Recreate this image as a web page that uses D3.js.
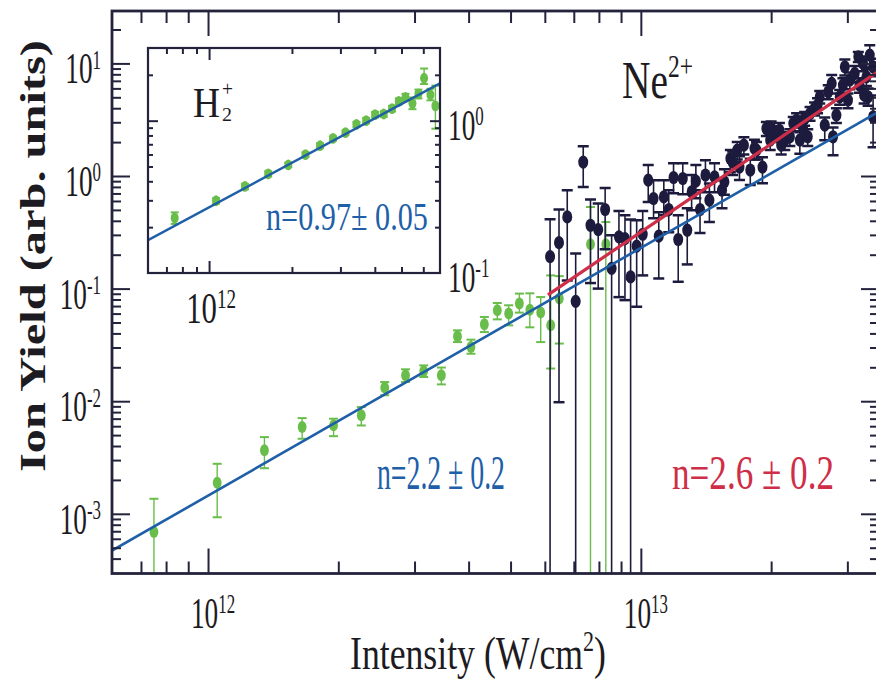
<!DOCTYPE html>
<html>
<head>
<meta charset="utf-8">
<script src="https://cdn.jsdelivr.net/npm/d3@7"></script>
<style>
  body { margin: 0; background: #fff; }
  svg { display: block; }
  text { font-family: "Liberation Serif", "Times New Roman", serif; fill: #1d1b22; }
  .ax line { stroke: #24233c; stroke-width: 2; }
  .ax .domain { display: none; }
</style>
</head>
<body>
<div id="chart"></div>
<script>
// ---- data ----
// green points (main panel)
const greenX = [7.5e11, 1.05e12, 1.35e12, 1.65e12, 1.95e12, 2.26e12, 2.56e12, 2.86e12, 3.15e12, 3.46e12, 3.77e12,
  4.05e12, 4.35e12, 4.66e12, 4.95e12, 5.24e12, 5.54e12, 5.87e12, 6.19e12, 6.48e12, 7.65e12, 8.3e12];
const greenY = [6.9e-4, 1.89e-3, 3.66e-3, 5.9e-3, 6.1e-3, 7.5e-3, 1.32e-2, 1.7e-2, 1.85e-2, 1.7e-2, 3.77e-2,
  3.03e-2, 4.82e-2, 6.41e-2, 6.0e-2, 7.36e-2, 6.5e-2, 6.12e-2, 4.72e-2, 8.15e-2, 0.248, 0.248];
const greenHi = [1.36e-3, 2.78e-3, 4.8e-3, 7.08e-3, 6.99e-3, 8.87e-3, 1.48e-2, 1.92e-2, 2.08e-2, 1.99e-2, 4.26e-2,
  3.52e-2, 5.6e-2, 7.45e-2, 7.11e-2, 9.03e-2, 9.08e-2, 8.41e-2, 0.131, 0.129, 0.531, 0.39];
// 0 = error bar runs below the axis
const greenLo = [0, 9.3e-4, 2.54e-3, 4.64e-3, 4.89e-3, 6.09e-3, 1.13e-2, 1.48e-2, 1.64e-2, 1.41e-2, 3.35e-2,
  2.64e-2, 4.11e-2, 5.33e-2, 4.72e-2, 6.12e-2, 4.53e-2, 3.35e-2, 1.95e-2, 3.25e-2, 0, 0];

// dark points (Ne2+)
const navyX = [6.17e12, 6.47e12, 6.76e12, 7.07e12, 7.36e12, 7.65e12, 7.97e12, 8.27e12, 8.56e12, 8.9e12,
  9.19e12, 9.47e12, 9.78e12, 1.01e13, 1.04e13, 1.07e13, 1.1e13, 1.13e13, 1.16e13, 1.19e13,
  1.22e13, 1.25e13, 1.28e13, 1.31e13, 1.34e13, 1.37e13, 1.41e13, 1.44e13, 1.48e13, 1.54e13,
  1.56e13, 1.61e13, 1.63e13, 1.69e13, 1.73e13, 1.79e13, 1.83e13, 1.91e13, 1.95e13, 1.99e13,
  2.04e13, 2.09e13, 2.11e13, 2.15e13, 2.21e13, 2.25e13, 2.33e13, 2.39e13, 2.43e13, 2.46e13,
  2.52e13, 2.59e13, 2.66e13, 2.71e13, 2.76e13, 2.78e13, 2.83e13, 2.88e13, 2.96e13, 3.04e13,
  3.12e13, 3.18e13, 3.26e13, 3.32e13, 3.35e13, 3.38e13, 3.44e13, 3.44e13,
  1.67e13, 1.85e13, 2.0e13, 2.29e13, 2.37e13, 2.56e13, 2.93e13, 3.01e13, 3.2e13, 3.28e13];
const navyY = [0.192, 0.256, 0.433, 0.0771, 1.33, 0.365, 0.334, 0.504, 0.151, 0.288,
  0.278, 0.127, 0.238, 0.304, 0.918, 0.631, 0.292, 0.652, 0.504, 0.97,
  0.273, 0.95, 0.33, 0.722, 0.9, 0.504, 1.02, 0.61, 0.982, 0.748,
  0.887, 1.43, 1.33, 1.2, 1.88, 1.13, 1.76, 1.2, 2.64, 2.08,
  2.39, 2.55, 1.88, 2.08, 2.23, 2.93, 2.08, 3.24, 2.23, 3.59,
  3.98, 5.05, 2.83, 5.59, 6.64, 2.23, 3.47, 5.05, 9.33, 7.11,
  8.15, 11.45, 10.0, 7.6, 5.05, 11.85, 9.33, 3.35,
  1.7, 1.7, 2.66, 3.13, 2.66, 4.26, 6.42, 4.72, 6.42, 5.22];
const navyHi = [0.413, 0.504, 0.748, 0.205, 1.84, 0.618, 0.57, 0.784, 0.298, 0.49,
  0.449, 0.41, 0.405, 0.49, 1.25, 0.918, 0.477, 0.918, 0.748, 1.3,
  0.449, 1.3, 0.518, 1.02, 1.25, 0.748, 1.38, 0.86, 1.3, 0.918,
  1.15, 1.7, 1.65, 1.5, 2.21, 1.42, 2.1, 1.47, 3.01, 2.45,
  2.75, 2.95, 2.2, 2.45, 2.6, 3.35, 2.45, 3.7, 2.6, 4.1,
  4.5, 5.7, 3.3, 6.4, 7.87, 2.7, 4.0, 5.8, 10.85, 8.3,
  9.5, 12.6, 11.5, 8.9, 6.0, 14.5, 11.0, 5.2,
  2.0, 2.0, 3.05, 3.6, 3.05, 4.9, 7.4, 5.4, 7.4, 6.0];
const navyLo = [0, 9.8e-3, 0.118, 0, 0.8, 0.112, 0.1, 0.224, 0, 0.084,
  0.079, 0, 0.069, 0.131, 0.589, 0.421, 0.123, 0.449, 0.316, 0.703,
  0.115, 0.69, 0.164, 0.497, 0.635, 0.312, 0.718, 0.39, 0.718, 0.518,
  0.68, 1.08, 1.02, 0.92, 1.55, 0.83, 1.4, 0.863, 2.27, 1.7,
  2.0, 2.15, 1.55, 1.7, 1.85, 2.5, 1.58, 2.8, 1.85, 3.1,
  3.45, 4.4, 2.08, 4.8, 5.4, 1.53, 2.95, 4.3, 7.8, 5.9,
  6.8, 10.3, 8.5, 6.3, 4.2, 9.2, 7.7, 1.8,
  1.4, 1.4, 2.3, 2.7, 2.3, 3.6, 5.5, 4.0, 5.5, 4.4];

// inset (H2+)
const insetX = [7.5e11, 1.06e12, 1.35e12, 1.64e12, 1.94e12, 2.24e12, 2.53e12, 2.82e12, 3.13e12, 3.43e12, 3.72e12,
  4.01e12, 4.31e12, 4.62e12, 4.89e12, 5.17e12, 5.48e12, 5.76e12, 6.04e12, 6.37e12, 6.64e12];
const insetY = [0.23, 0.298, 0.37, 0.447, 0.512, 0.598, 0.685, 0.765, 0.834, 0.946, 1.0,
  1.095, 1.106, 1.2, 1.34, 1.42, 1.3, 1.5, 1.9, 1.48, 1.25];
const insetHi = [0.25, 0.31, 0.385, 0.465, 0.53, 0.62, 0.71, 0.79, 0.86, 0.98, 1.04,
  1.14, 1.15, 1.25, 1.4, 1.5, 1.42, 1.6, 2.2, 1.62, 1.7];
const insetLo = [0.21, 0.285, 0.355, 0.43, 0.495, 0.58, 0.66, 0.74, 0.81, 0.91, 0.96,
  1.05, 1.06, 1.15, 1.28, 1.35, 1.19, 1.4, 1.74, 1.36, 0.886];

// power-law fits: y = k * (x / x0)^n, drawn from xFrom to the right edge
const fitBlue = { k: 1.45e-3, x0: 1e12, n: 2.2, xFrom: 6e11 };
const fitRed = { k: 0.088, x0: 6.1e12, n: 2.6, xFrom: 6.1e12 };
const fitInset = { k: 0.27, x0: 1e12, n: 0.97, xFrom: 6e11 };

const fitLabels = ['n=2.2 \u00b1 0.2', 'n=2.6 \u00b1 0.2', 'n=0.97\u00b1 0.05'];

const GREEN = '#69bd4a';
const NAVY = '#1c1b3d';
const BLUE = '#1e5fa8';
const RED = '#cf2e48';

// ---- layout ----
const W = 876;
const H = 681;
const plot = { left: 112, right: 879, top: 11, bottom: 573.5 };
const ins = { left: 148, right: 440, top: 48, bottom: 273 };

const svg = d3.select('#chart').append('svg').attr('width', W).attr('height', H);
const defs = svg.append('defs');
defs.append('clipPath').attr('id', 'clip-main').append('rect')
  .attr('x', plot.left).attr('y', plot.top)
  .attr('width', plot.right - plot.left).attr('height', plot.bottom - plot.top);
defs.append('clipPath').attr('id', 'clip-ins').append('rect')
  .attr('x', ins.left).attr('y', ins.top)
  .attr('width', ins.right - ins.left).attr('height', ins.bottom - ins.top);

const x = d3.scaleLog().domain([6e11, 3.55e13]).range([plot.left, plot.right]);
const y = d3.scaleLog().domain([2.95e-4, 29.2]).range([plot.bottom, plot.top]);
const xi = d3.scaleLog().domain([6e11, 6.9e12]).range([ins.left, ins.right]);
const yi = d3.scaleLog().domain([0.1, 3]).range([ins.bottom, ins.top]);

const isMajor = (v) => Math.abs(Math.log10(v) - Math.round(Math.log10(v))) < 1e-6;

function frameTicks(g, sx, sy, box, lens) {
  const inside = (s) => (v) => s(v) > Math.min(...s.range()) + 1 && s(v) < Math.max(...s.range()) - 1;
  const xt = sx.ticks().filter(inside(sx));
  const yt = sy.ticks().filter(inside(sy));
  const sets = [
    [d3.axisBottom, sx, xt, `translate(0,${box.bottom})`, lens.x],
    [d3.axisTop, sx, xt, `translate(0,${box.top})`, lens.x],
    [d3.axisLeft, sy, yt, `translate(${box.left},0)`, lens.y],
    [d3.axisRight, sy, yt, `translate(${box.right},0)`, lens.y],
  ];
  sets.forEach(([fn, s, t, tr, len]) => {
    g.append('g').attr('class', 'ax').attr('transform', tr)
      .call(fn(s).tickValues(t.filter(isMajor)).tickSize(-len[0]).tickSizeOuter(0).tickFormat(''));
    g.append('g').attr('class', 'ax').attr('transform', tr)
      .call(fn(s).tickValues(t.filter((v) => !isMajor(v))).tickSize(-len[1]).tickSizeOuter(0).tickFormat(''));
  });
  g.append('rect')
    .attr('x', box.left).attr('y', box.top)
    .attr('width', box.right - box.left).attr('height', box.bottom - box.top)
    .attr('fill', 'none').attr('stroke', '#24233c').attr('stroke-width', lens.frame);
}

function drawSeries(g, sx, sy, xs, ys, his, los, color, mark, yFloor) {
  const pts = xs.map((v, i) => ({ x: v, y: ys[i], hi: his[i], lo: los[i] }));
  const yPos = (v) => (v > 0 ? sy(v) : yFloor);
  g.append('g').selectAll('line.stem')
    .data(pts)
    .join('line')
    .attr('x1', (d) => sx(d.x)).attr('x2', (d) => sx(d.x))
    .attr('y1', (d) => sy(d.hi)).attr('y2', (d) => yPos(d.lo))
    .attr('stroke', color).attr('stroke-width', mark.stem);
  const caps = [];
  pts.forEach((d) => {
    caps.push({ x: d.x, v: d.hi });
    if (d.lo > 0) caps.push({ x: d.x, v: d.lo });
  });
  g.append('g').selectAll('line.cap')
    .data(caps)
    .join('line')
    .attr('x1', (d) => sx(d.x) - mark.cap).attr('x2', (d) => sx(d.x) + mark.cap)
    .attr('y1', (d) => sy(d.v)).attr('y2', (d) => sy(d.v))
    .attr('stroke', color).attr('stroke-width', mark.capW);
  g.append('g').selectAll('ellipse')
    .data(pts)
    .join('ellipse')
    .attr('cx', (d) => sx(d.x)).attr('cy', (d) => sy(d.y))
    .attr('rx', mark.rx).attr('ry', mark.ry)
    .attr('fill', color);
}

function drawFit(g, sx, sy, fit, color, width) {
  const xEnd = sx.domain()[1];
  const pts = [fit.xFrom, xEnd].map((v) => [v, fit.k * Math.pow(v / fit.x0, fit.n)]);
  g.append('path')
    .attr('d', d3.line().x((d) => sx(d[0])).y((d) => sy(d[1]))(pts))
    .attr('fill', 'none').attr('stroke', color).attr('stroke-width', width);
}

// superscript label like 10^12
function powLabel(g, base, sup, size, px, py, anchor, sxScale) {
  const t = g.append('text').attr('font-size', size);
  t.append('tspan').text(base);
  t.append('tspan').attr('font-size', size * 0.62).attr('dy', -size * 0.33).text(sup);
  const b = t.node().getBBox();
  let x0 = px;
  if (anchor === 'end') x0 = px - b.width * sxScale;
  if (anchor === 'middle') x0 = px - (b.width * sxScale) / 2;
  t.attr('transform', `translate(${x0 - b.x * sxScale},${py}) scale(${sxScale},1)`);
  return t;
}

// stretch a text horizontally so its box fills [x0, x1]
function fitText(t, x0, x1, py) {
  const b = t.node().getBBox();
  const s = (x1 - x0) / b.width;
  t.attr('transform', `translate(${x0 - b.x * s},${py}) scale(${s},1)`);
}

// ---- main panel ----
const main = svg.append('g').attr('clip-path', 'url(#clip-main)');
drawSeries(main, x, y, greenX, greenY, greenHi, greenLo, GREEN,
  { rx: 4.4, ry: 6, cap: 4.5, stem: 1.4, capW: 2 }, plot.bottom + 5);
drawSeries(main, x, y, navyX, navyY, navyHi, navyLo, NAVY,
  { rx: 5, ry: 6.6, cap: 5.5, stem: 1.6, capW: 2.5 }, plot.bottom + 5);
drawFit(main, x, y, fitBlue, BLUE, 2.6);
drawFit(main, x, y, fitRed, RED, 3.2);

frameTicks(svg.append('g'), x, y, plot, { x: [25, 12], y: [18, 9], frame: 2.8 });

const TICK_FS = 44;
const TICK_SX = 0.62;
x.ticks().filter(isMajor).forEach((v) => {
  powLabel(svg, '10', String(Math.round(Math.log10(v))), TICK_FS, x(v) + 5, 628, 'middle', TICK_SX);
});
y.ticks().filter(isMajor).forEach((v) => {
  powLabel(svg, '10', String(Math.round(Math.log10(v))), TICK_FS, 101, y(v) + 20, 'end', TICK_SX);
});

// axis titles
const xt = svg.append('text').attr('font-size', 47);
xt.append('tspan').text('Intensity (W/cm');
xt.append('tspan').attr('font-size', 29).attr('dy', -18).text('2');
xt.append('tspan').attr('dy', 18).text(')');
fitText(xt, 350, 606, 669);

const yt = svg.append('text').attr('font-size', 48).attr('font-weight', 'bold')
  .text('Ion Yield (arb. units)');
const yb = yt.node().getBBox();
yt.attr('transform', `translate(45,472) rotate(-90) scale(${432 / yb.width},0.74) translate(${-yb.x},0)`);

// species and fit labels
const ne = svg.append('text').attr('font-size', 52);
ne.append('tspan').text('Ne');
ne.append('tspan').attr('font-size', 31).attr('dy', -21).text('2+');
fitText(ne, 622, 693, 98);

const nBlue = svg.append('text').attr('font-size', 48).style('fill', BLUE).text(fitLabels[0]);
fitText(nBlue, 377, 505, 489);
const nRed = svg.append('text').attr('font-size', 48).style('fill', RED).text(fitLabels[1]);
fitText(nRed, 672, 834, 489);

// ---- inset ----
svg.append('rect')
  .attr('x', ins.left).attr('y', ins.top)
  .attr('width', ins.right - ins.left).attr('height', ins.bottom - ins.top)
  .attr('fill', '#fff');
const inset = svg.append('g').attr('clip-path', 'url(#clip-ins)');
drawSeries(inset, xi, yi, insetX, insetY, insetHi, insetLo, GREEN,
  { rx: 4, ry: 5.4, cap: 4, stem: 1.4, capW: 2 }, ins.bottom + 5);
drawFit(inset, xi, yi, fitInset, BLUE, 2.4);
frameTicks(svg.append('g'), xi, yi, ins, { x: [12, 6], y: [10, 5], frame: 2.2 });

xi.ticks().filter(isMajor).forEach((v) => {
  powLabel(svg, '10', String(Math.round(Math.log10(v))), TICK_FS, xi(v) + 2, 323, 'middle', 0.7);
});
yi.ticks().filter(isMajor).forEach((v) => {
  powLabel(svg, '10', String(Math.round(Math.log10(v))), TICK_FS, 448, yi(v) + 19, 'start', TICK_SX);
});

// H2+ : H, then + raised and 2 lowered, stacked
const hLab = svg.append('text').attr('font-size', 42).text('H');
fitText(hLab, 193, 220, 117);
const hPlus = svg.append('text').attr('font-size', 22).text('+');
fitText(hPlus, 222, 233, 96);
const hTwo = svg.append('text').attr('font-size', 19).text('2');
fitText(hTwo, 222, 232, 121);

const nIns = svg.append('text').attr('font-size', 41).style('fill', BLUE).text(fitLabels[2]);
fitText(nIns, 266, 428, 230);
</script>
</body>
</html>
